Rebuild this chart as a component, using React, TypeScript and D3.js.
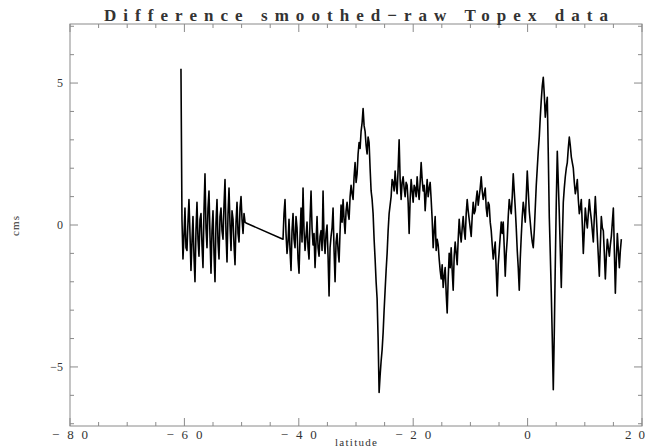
import * as d3 from 'd3';

// along-track samples, regular latitude step
const latStep = 0.175;

// southern piece, starts with the spike
const latA0 = -60.6;
const valuesA = [
  5.5, 0.2, -1.2, -0.4, 0.6, -0.8, -0.9, 0.1, 0.9, -0.3,
  -1.6, -0.6, 0.3, -1.1, -2.0, -0.2, 0.8, -0.5, -1.1, 0.2,
  0.4, -0.7, -1.5, 0.5, 1.8, -0.1, -0.8, 0.6, 1.2, -0.4,
  -1.7, -0.2, 0.5, -1.0, -2.0, 0.1, 0.9, -0.6, -1.2, 0.3,
  0.6, -0.2, -0.5, 0.7, 1.6, -0.3, -1.3, 0.4, 1.3, 0.0,
  -0.9, 0.5, 0.2, -0.7, -1.4, 0.1, 0.8, -0.3, -0.6, 0.6,
  1.0, 0.2, -0.3, 0.4, 0.1, 0.07,
];

// main piece after the gap
const latB0 = -42.76;
const valuesB = [
  -0.5, 0.4, 0.9, -0.3, -1.0, -0.6, 0.2, -0.9, -1.6, -0.2, 0.4, -0.5, -0.8, 0.3, -0.1, -1.2, -1.7, -0.4, 0.6, -0.6,
  1.3, -0.2, -0.9, -0.4, 0.1, -0.8, -1.2, 0.2, 1.2, -0.1, -0.7, -0.3, -1.5, -0.6, 0.3, -0.8, -1.1, -0.4, -0.2, -0.9,
  1.2, -0.5, -1.0, -0.3, 0.0, -1.1, -2.5, -0.8, -0.4, -0.1, 0.6, -0.9, -2.0, -0.6, -0.3, -0.9, -1.3, -0.2, 0.7, 0.1,
  0.9, 0.2, -0.3, 0.5, 0.8, 0.4, 0.2, 1.0, 1.4, 1.1, 0.9, 1.7, 2.2, 1.5, 1.8, 2.5, 2.9, 2.7, 3.3, 3.6,
  4.1, 3.5, 3.3, 2.8, 2.5, 3.1, 2.9, 2.0, 1.2, 0.9, 0.4, -0.5, -1.2, -2.0, -2.6, -4.0, -5.9, -5.3, -4.8, -4.4,
  -3.8, -3.0, -2.3, -1.6, -1.0, -0.2, 0.4, 0.7, 1.0, 1.6, 1.5, 1.2, 1.9, 1.4, 1.1, 2.0, 3.0, 1.6, 0.9, 1.5,
  1.7, 1.3, 1.0, 1.5, 1.4, 0.8, -0.3, 0.9, 1.6, 1.2, 0.8, 1.4, 1.3, 1.0, 1.7, 1.2, 0.9, 1.5, 2.2, 1.6,
  1.2, 1.4, 0.5, 1.1, 1.6, 1.0, 1.3, 1.5, 0.9, 0.2, -0.8, -0.2, 0.3, -0.9, -0.5, -0.7, -1.2, -1.6, -1.9, -1.4,
  -2.2, -1.8, -1.5, -2.4, -3.1, -1.9, -1.0, -1.5, -0.8, -1.6, -2.3, -1.1, -0.6, -1.0, -1.4, -0.5, 0.2, -0.3, -0.6, -0.1,
  0.3, -0.2, -0.5, 0.4, 0.9, 0.5, 0.2, -0.1, -0.4, 0.3, 0.8, 0.4, 0.5, 0.9, 1.2, 0.7, 1.0, 1.3, 1.7, 1.2,
  0.9, 1.1, 1.3, 0.6, 0.3, 0.8, 0.7, 0.1, -0.2, -0.7, -1.2, -0.9, -0.6, -1.6, -2.5, -1.4, -0.9, -0.4, 0.1, -0.3,
  0.1, -0.8, -1.8, -1.0, -0.5, 0.3, 0.9, 0.6, 0.4, 1.0, 1.8, 1.2, 0.6, -0.1, -0.9, -1.5, -2.3, -1.2, -0.4, 0.3,
  0.8, 0.5, 0.1, 1.0, 1.9, 1.2, 0.5, 0.1, -0.3, -0.6, -0.8, -0.2, 0.6, 1.4, 2.0, 2.6, 3.1, 3.8, 4.4, 4.9,
  5.2, 4.6, 3.8, 4.2, 4.5, 2.5, 0.3, -1.0, -2.4, -4.0, -5.8, -3.8, -1.4, 0.8, 2.6, 1.5, 0.4, -0.9, -2.2, -0.6,
  0.8, 1.3, 1.7, 2.0, 2.2, 2.7, 3.1, 2.8, 2.4, 2.2, 2.0, 1.5, 1.1, 1.3, 1.6, 0.9, 0.4, 0.6, 0.9, 0.0,
  -1.0, -0.2, 0.6, 0.2, -0.1, 0.4, 0.9, 0.5, 0.2, -0.2, -0.6, 0.3, 1.0, 0.3, -0.4, -1.1, -1.8, -0.7, 0.3, -0.1,
  -0.2, -1.0, -1.9, -1.1, -0.5, -0.8, -1.1, -0.7, -0.4, 0.1, 0.6, -0.9, -2.4, -1.2, -0.3, -0.9, -1.5, -0.9, -0.5,
];

const xMajor = [-80, -60, -40, -20, 0, 20];
const yMajor = [-5, 0, 5];
const title = 'Difference smoothed\u2212raw Topex data';
const xTitle = 'latitude';
const yTitle = 'cms';

const W = 645;
const H = 447;
const left = 70, right = 642, top = 24, bottom = 426;

export default function App() {
  const x = d3.scaleLinear().domain([-80, 20]).range([left, right]);
  const y = d3.scaleLinear().domain([-7.08, 7.08]).range([bottom, top]);

  const pts: [number, number][] = [
    ...valuesA.map((v, i) => [latA0 + i * latStep, v] as [number, number]),
    ...valuesB.map((v, i) => [latB0 + i * latStep, v] as [number, number]),
  ];
  const line = d3.line<[number, number]>()
    .x(d => x(d[0]))
    .y(d => y(d[1]));

  const xMinor = d3.range(-80, 20.01, 5);
  const yMinor = d3.range(-7, 7.01, 1);
  const axisCol = '#8a8a8a';
  const font = '"Liberation Serif", "DejaVu Serif", serif';
  const lab = (t: number) => (t < 0 ? '\u2212' + Math.abs(t) : String(t));

  return (
    <svg width={W} height={H} style={{ position: 'absolute', left: 0, top: 0, background: '#fff' }}>
      <rect x={left} y={top} width={right - left} height={bottom - top} fill="none" stroke={axisCol} strokeWidth={1} />

      {xMinor.map(t => {
        const len = t % 20 === 0 ? 8 : 4;
        return (
          <g key={'xt' + t} stroke={axisCol}>
            <line x1={x(t)} x2={x(t)} y1={bottom} y2={bottom - len} />
            <line x1={x(t)} x2={x(t)} y1={top} y2={top + len} />
          </g>
        );
      })}
      {yMinor.map(t => {
        const len = t % 5 === 0 ? 8 : 4;
        return (
          <g key={'yt' + t} stroke={axisCol}>
            <line x1={left} x2={left + len} y1={y(t)} y2={y(t)} />
            <line x1={right} x2={right - len} y1={y(t)} y2={y(t)} />
          </g>
        );
      })}

      <path d={line(pts) || ''} fill="none" stroke="#000" strokeWidth={1.6} strokeLinejoin="round" />

      {xMajor.map(t => (
        <text key={'xl' + t} x={t === 20 ? 645 : x(t)} y={439} textAnchor={t === 20 ? 'end' : 'middle'}
          fontFamily={font} fontSize={13} fill="#333"
          textLength={t < 0 ? 36 : t === 0 ? 9 : 20} lengthAdjust="spacing">{lab(t)}</text>
      ))}
      {yMajor.map(t => (
        <text key={'yl' + t} x={63} y={y(t) + 4} textAnchor="end" fontFamily={font} fontSize={12}
          fill="#333">{lab(t)}</text>
      ))}

      <text x={(left + right) / 2} y={21} textAnchor="middle" fontFamily={font} fontSize={17} fontWeight="bold"
        fill="#333" textLength={504} lengthAdjust="spacing">{title}</text>
      <text x={356} y={446} textAnchor="middle" fontFamily={font} fontSize={11} fill="#333"
        textLength={42} lengthAdjust="spacing">{xTitle}</text>
      <text transform="translate(19,226) rotate(-90)" textAnchor="middle" fontFamily={font} fontSize={11}
        fill="#333" textLength={20} lengthAdjust="spacing">{yTitle}</text>
    </svg>
  );
}
